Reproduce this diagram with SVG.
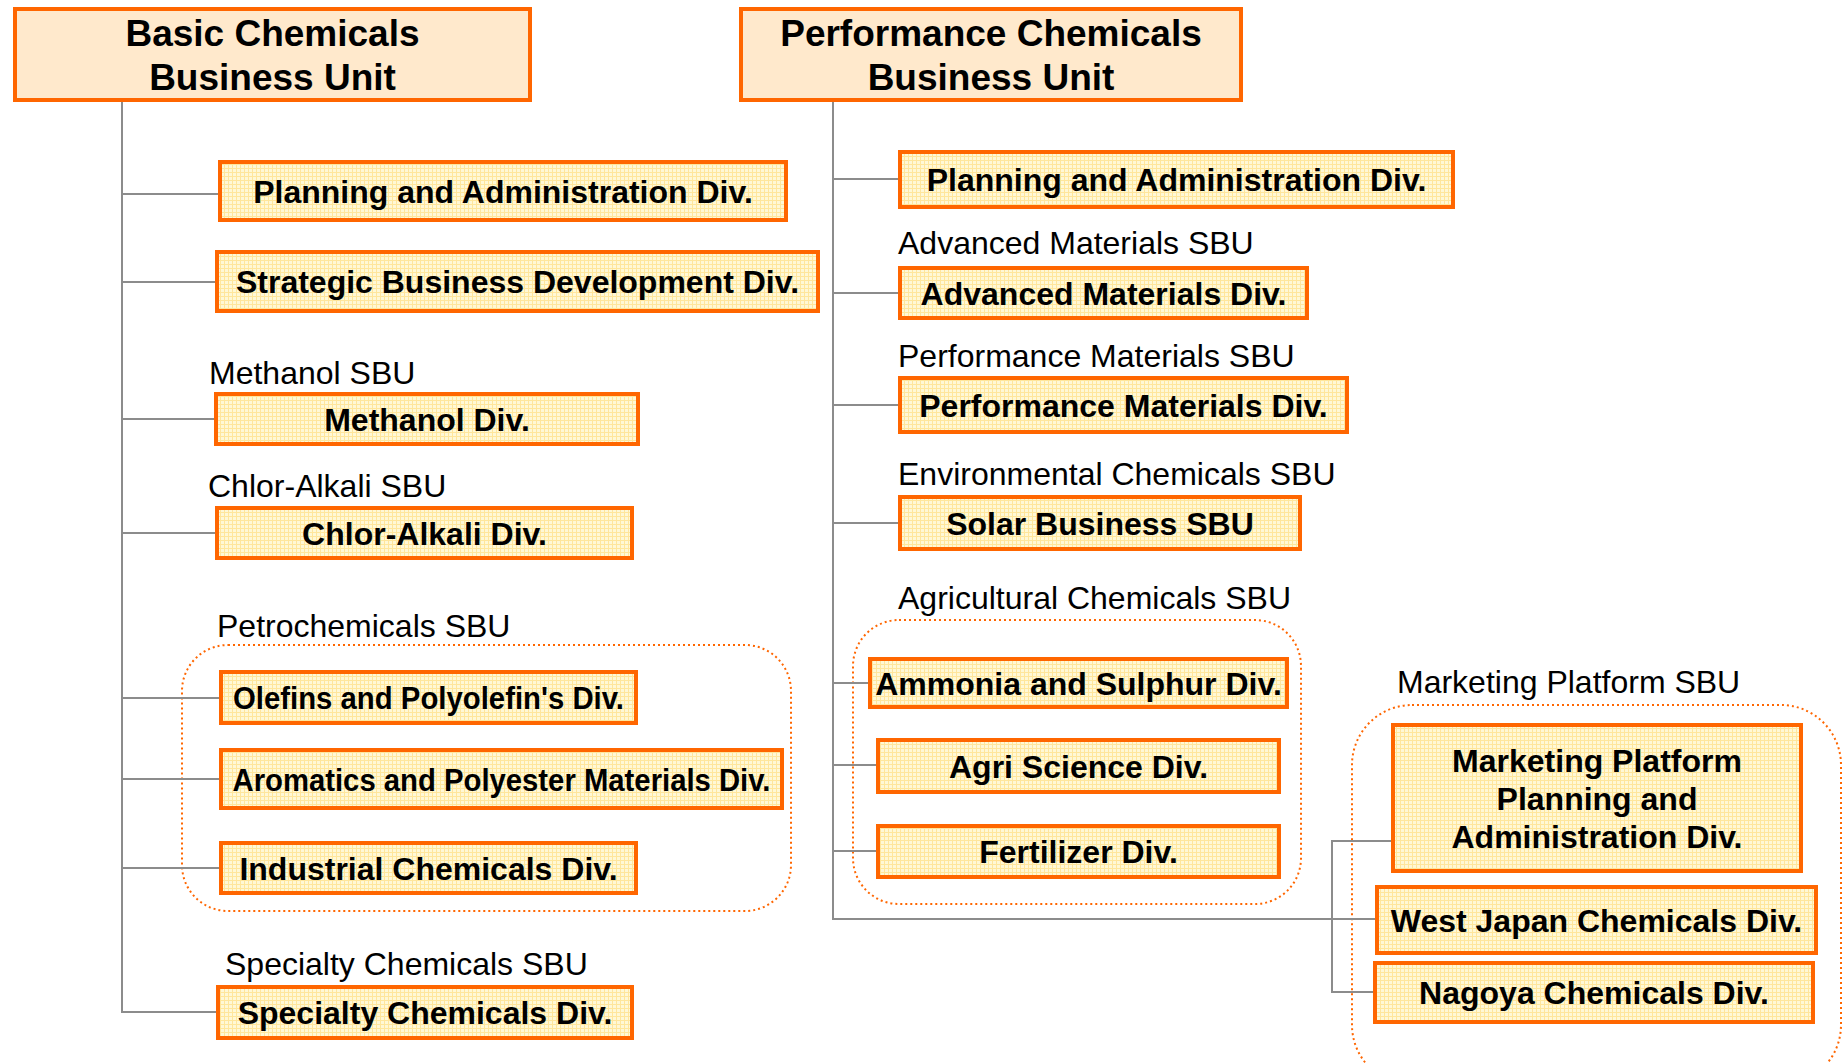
<svg xmlns="http://www.w3.org/2000/svg" width="1843" height="1063" viewBox="0 0 1843 1063">
  <defs>
    <!-- fine yellow grid used as the fill of division boxes -->
    <pattern id="grid" width="4" height="4" patternUnits="userSpaceOnUse">
      <rect width="4" height="4" fill="#FFF8D6"/>
      <path d="M0 0.5H4M0.5 0V4" stroke="#FFE69C" stroke-width="1"/>
    </pattern>
    <style>
      .unit { fill: #FFE9CC; stroke: #FF6600; stroke-width: 4; }
      .div { fill: url(#grid); stroke: #FF6600; stroke-width: 4; }
      .sbu { fill: none; stroke: #FF6600; stroke-width: 2; stroke-dasharray: 2 3; }
      .conn { fill: none; stroke: #8C8C8C; stroke-width: 2; }
      .t-unit { font-family: "Liberation Sans", Arial, sans-serif; font-weight: bold; font-size: 37px; fill: #000; text-anchor: middle; }
      .t-div { font-family: "Liberation Sans", Arial, sans-serif; font-weight: bold; font-size: 32px; fill: #000; text-anchor: middle; }
      .t-label { font-family: "Liberation Sans", Arial, sans-serif; font-size: 32px; fill: #000; }
    </style>
  </defs>

  <rect width="1843" height="1063" fill="#FFFFFF"/>

  <!-- SBU group outlines -->
  <g id="sbu-groups">
    <rect id="petrochemicals-group" class="sbu" x="182" y="645" width="609" height="266" rx="46"/>
    <rect id="agricultural-group" class="sbu" x="853" y="620" width="448" height="284" rx="46"/>
    <rect id="marketing-group" class="sbu" x="1352" y="705" width="489" height="380" rx="60"/>
  </g>

  <!-- connectors -->
  <g id="connectors">
    <!-- Basic Chemicals tree -->
    <path class="conn" d="M122 101V1012H218"/>
    <path class="conn" d="M122 194H220"/>
    <path class="conn" d="M122 282H217"/>
    <path class="conn" d="M122 419H216"/>
    <path class="conn" d="M122 533H217"/>
    <path class="conn" d="M122 698H221"/>
    <path class="conn" d="M122 779H221"/>
    <path class="conn" d="M122 868H221"/>
    <!-- Performance Chemicals tree -->
    <path class="conn" d="M833 101V919H1332"/>
    <path class="conn" d="M833 179H900"/>
    <path class="conn" d="M833 293H900"/>
    <path class="conn" d="M833 405H900"/>
    <path class="conn" d="M833 523H900"/>
    <path class="conn" d="M833 683H870"/>
    <path class="conn" d="M833 765H878"/>
    <path class="conn" d="M833 851H878"/>
    <!-- Marketing Platform branch -->
    <path class="conn" d="M1392 841H1332V992H1374"/>
    <path class="conn" d="M1332 919H1376"/>
  </g>

  <!-- Basic Chemicals Business Unit -->
  <g id="basic-chemicals-unit">
    <rect class="unit" x="15" y="9" width="515" height="91"/>
    <text class="t-unit" x="272.5" y="46">Basic Chemicals</text>
    <text class="t-unit" x="272.5" y="90">Business Unit</text>
  </g>

  <g id="basic-planning">
    <rect class="div" x="220" y="162" width="566" height="58"/>
    <text class="t-div" x="503" y="202.5">Planning and Administration Div.</text>
  </g>

  <g id="strategic-business">
    <rect class="div" x="217" y="252" width="601" height="59"/>
    <text class="t-div" x="517.5" y="293">Strategic Business Development Div.</text>
  </g>

  <g id="methanol">
    <text class="t-label" x="209" y="384">Methanol SBU</text>
    <rect class="div" x="216" y="394" width="422" height="50"/>
    <text class="t-div" x="427" y="430.5">Methanol Div.</text>
  </g>

  <g id="chlor-alkali">
    <text class="t-label" x="208" y="497">Chlor-Alkali SBU</text>
    <rect class="div" x="217" y="508" width="415" height="50"/>
    <text class="t-div" x="424.5" y="544.5">Chlor-Alkali Div.</text>
  </g>

  <g id="petrochemicals">
    <text class="t-label" x="217" y="637">Petrochemicals SBU</text>
  </g>

  <g id="olefins">
    <rect class="div" x="221" y="672" width="415" height="51"/>
    <text class="t-div" x="428.5" y="709" textLength="391" lengthAdjust="spacingAndGlyphs">Olefins and Polyolefin's Div.</text>
  </g>

  <g id="aromatics">
    <rect class="div" x="221" y="750" width="561" height="58"/>
    <text class="t-div" x="501.5" y="790.5" textLength="538" lengthAdjust="spacingAndGlyphs">Aromatics and Polyester Materials Div.</text>
  </g>

  <g id="industrial">
    <rect class="div" x="221" y="843" width="415" height="50"/>
    <text class="t-div" x="428.5" y="879.5">Industrial Chemicals Div.</text>
  </g>

  <g id="specialty">
    <text class="t-label" x="225" y="975">Specialty Chemicals SBU</text>
    <rect class="div" x="218" y="987" width="414" height="51"/>
    <text class="t-div" x="425" y="1024">Specialty Chemicals Div.</text>
  </g>

  <!-- Performance Chemicals Business Unit -->
  <g id="performance-chemicals-unit">
    <rect class="unit" x="741" y="9" width="500" height="91"/>
    <text class="t-unit" x="991" y="46">Performance Chemicals</text>
    <text class="t-unit" x="991" y="90">Business Unit</text>
  </g>

  <g id="performance-planning">
    <rect class="div" x="900" y="152" width="553" height="55"/>
    <text class="t-div" x="1176.5" y="191">Planning and Administration Div.</text>
  </g>

  <g id="advanced-materials">
    <text class="t-label" x="898" y="254">Advanced Materials SBU</text>
    <rect class="div" x="900" y="268" width="407" height="50"/>
    <text class="t-div" x="1103.5" y="304.5">Advanced Materials Div.</text>
  </g>

  <g id="performance-materials">
    <text class="t-label" x="898" y="367">Performance Materials SBU</text>
    <rect class="div" x="900" y="378" width="447" height="54"/>
    <text class="t-div" x="1123.5" y="416.5">Performance Materials Div.</text>
  </g>

  <g id="environmental">
    <text class="t-label" x="898" y="485">Environmental Chemicals SBU</text>
    <rect class="div" x="900" y="497" width="400" height="52"/>
    <text class="t-div" x="1100" y="534.5">Solar Business SBU</text>
  </g>

  <g id="agricultural">
    <text class="t-label" x="898" y="609">Agricultural Chemicals SBU</text>
  </g>

  <g id="ammonia">
    <rect class="div" x="870" y="659" width="417" height="48"/>
    <text class="t-div" x="1078.5" y="694.5">Ammonia and Sulphur Div.</text>
  </g>

  <g id="agri-science">
    <rect class="div" x="878" y="740" width="401" height="52"/>
    <text class="t-div" x="1078.5" y="777.5">Agri Science Div.</text>
  </g>

  <g id="fertilizer">
    <rect class="div" x="878" y="826" width="401" height="51"/>
    <text class="t-div" x="1078.5" y="863">Fertilizer Div.</text>
  </g>

  <g id="marketing-platform">
    <text class="t-label" x="1397" y="693">Marketing Platform SBU</text>
  </g>

  <g id="marketing-planning">
    <rect class="div" x="1393" y="725" width="408" height="146"/>
    <text class="t-div" x="1597" y="772">Marketing Platform</text>
    <text class="t-div" x="1597" y="810">Planning and</text>
    <text class="t-div" x="1597" y="848">Administration Div.</text>
  </g>

  <g id="west-japan">
    <rect class="div" x="1377" y="887" width="439" height="66"/>
    <text class="t-div" x="1596.5" y="931.5">West Japan Chemicals Div.</text>
  </g>

  <g id="nagoya">
    <rect class="div" x="1375" y="963" width="438" height="59"/>
    <text class="t-div" x="1594" y="1003.5">Nagoya Chemicals Div.</text>
  </g>
</svg>
